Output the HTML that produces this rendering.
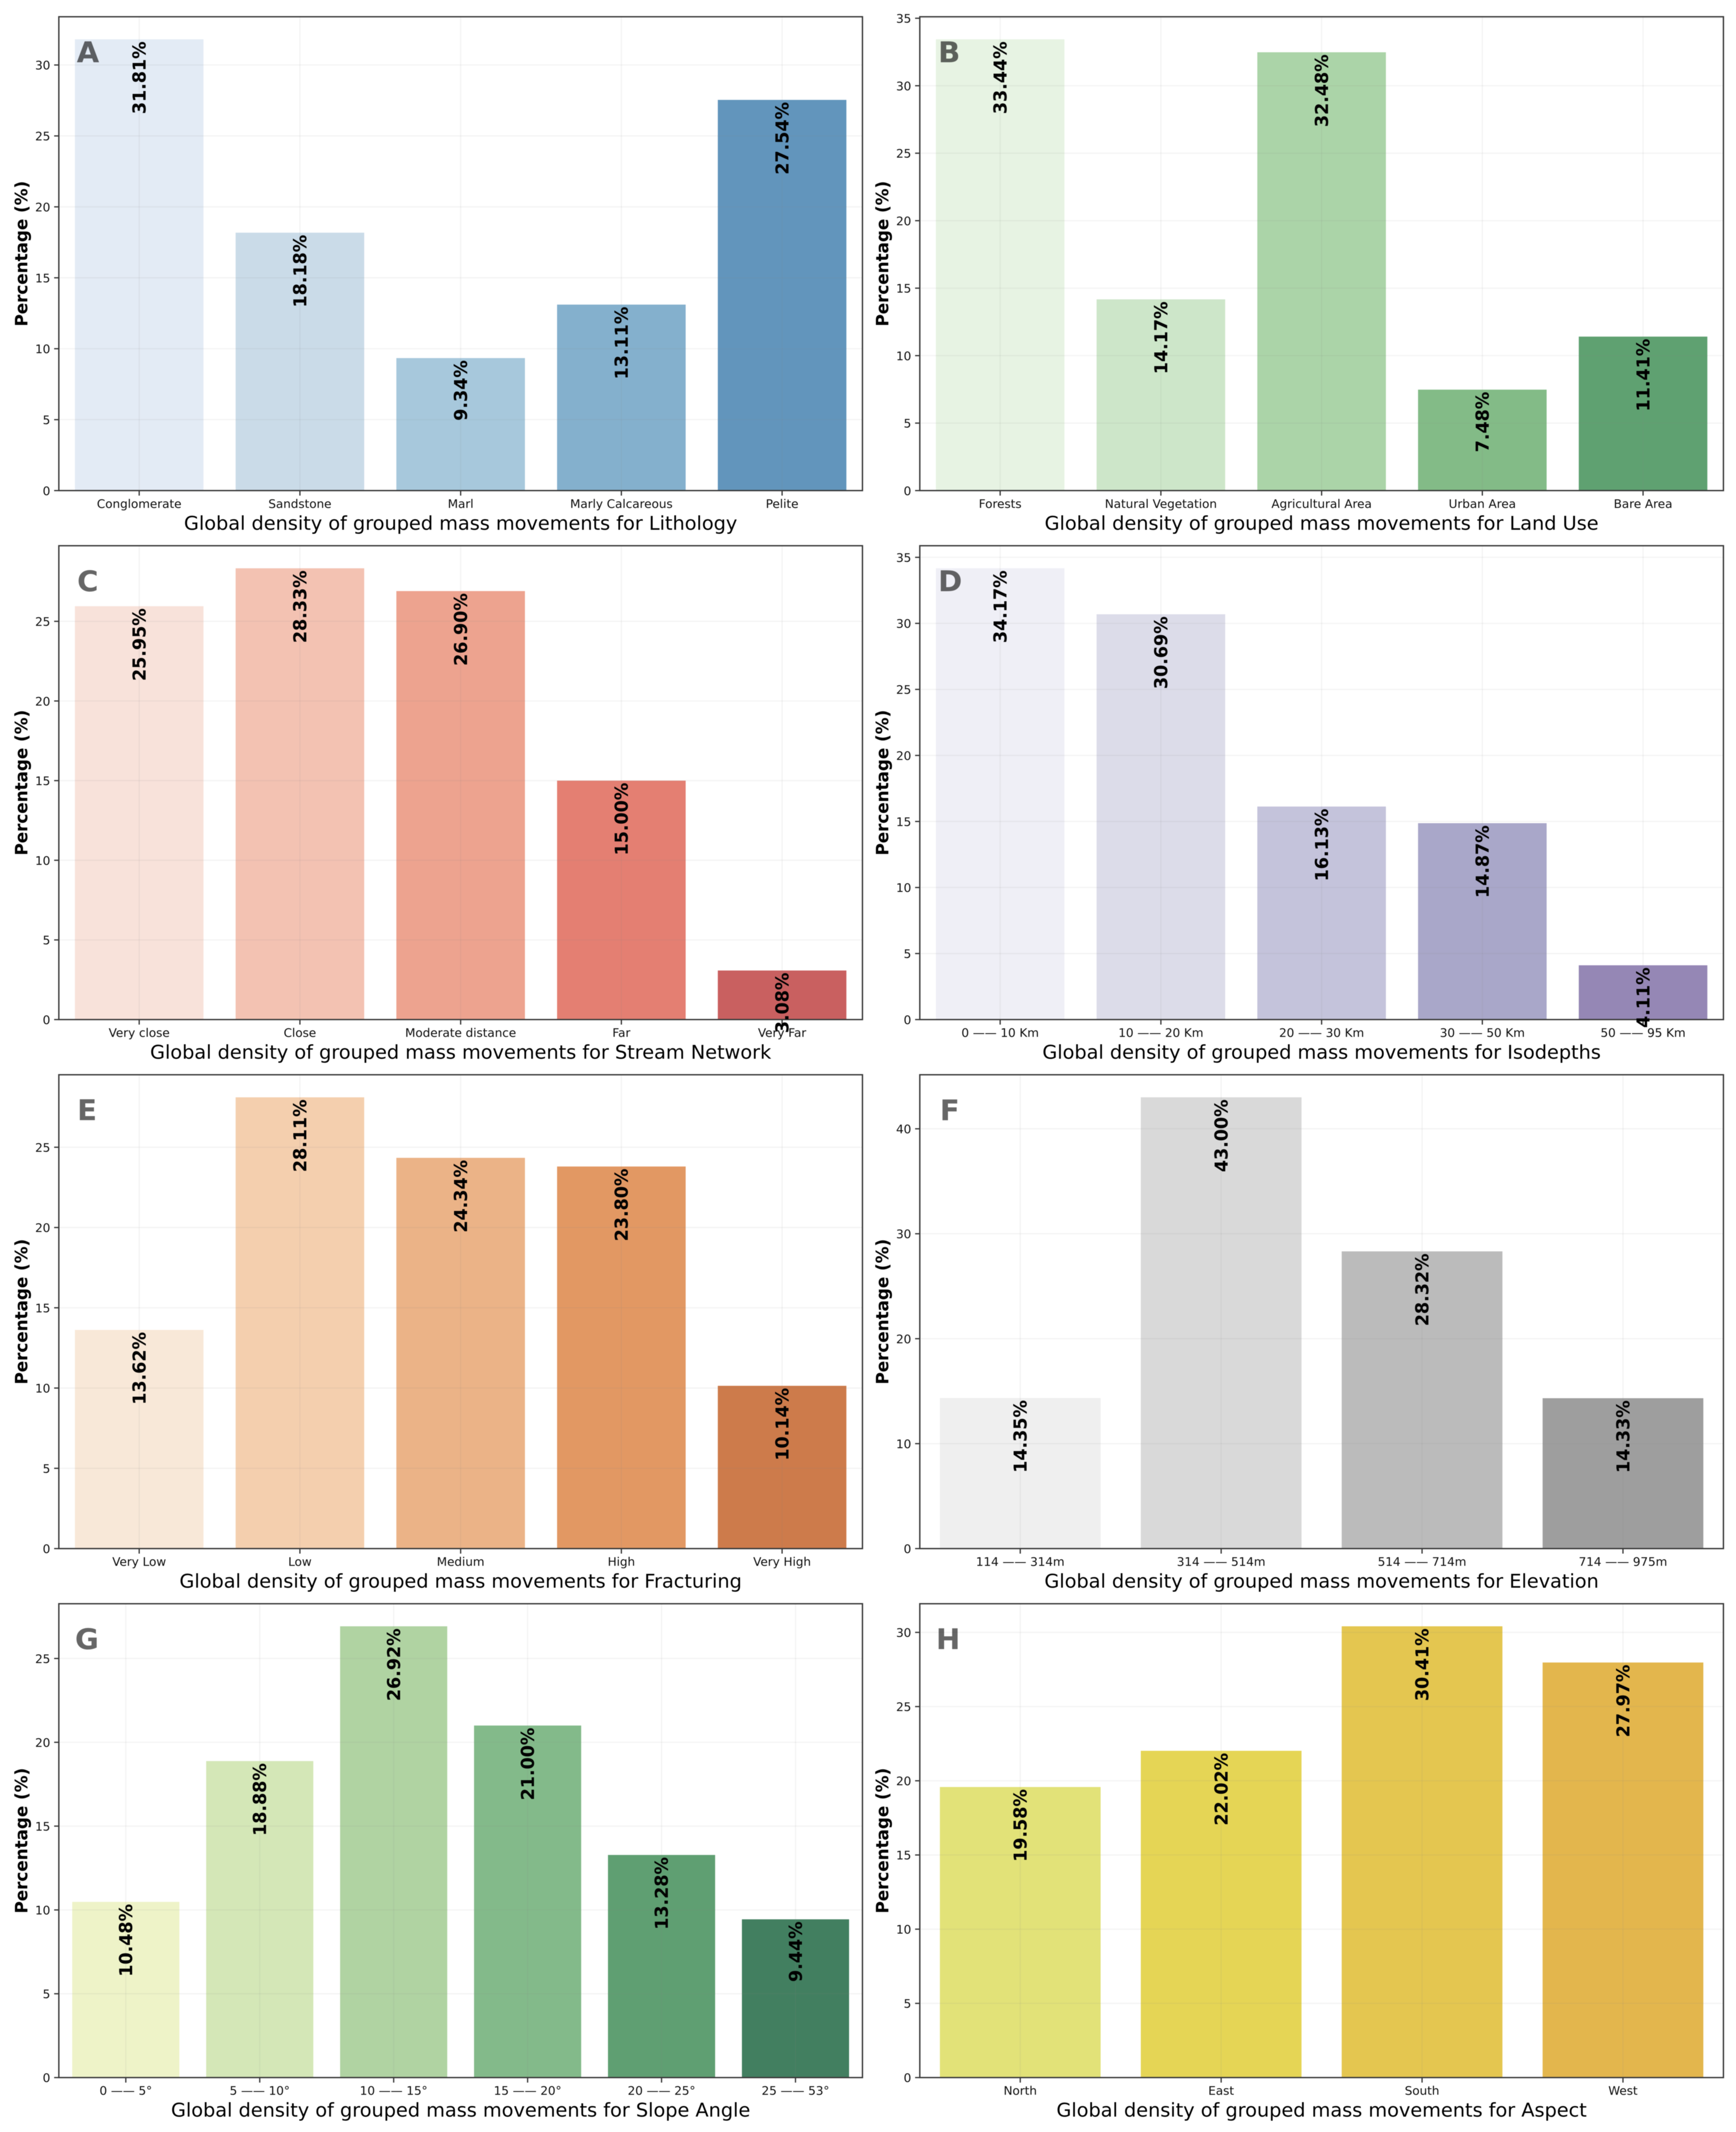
<!DOCTYPE html>
<html lang="en">
<head>
<meta charset="utf-8">
<title>Global density of grouped mass movements</title>
<style>
html,body{margin:0;padding:0;background:#fff;width:100%;height:100%;overflow:hidden;}
svg{display:block;width:100%;height:100vh;filter:blur(0.7px);}
text{font-family:"DejaVu Sans","Liberation Sans",sans-serif;}
</style>
</head>
<body>
<svg id="figure" xmlns="http://www.w3.org/2000/svg" viewBox="0 0 4072 5092" preserveAspectRatio="none">
<rect x="0" y="0" width="4072" height="5092" fill="#ffffff"></rect>
</svg>
<script>
const lithologyCategories = ['Conglomerate','Sandstone','Marl','Marly Calcareous','Pelite'];
const lithologyValues = [31.81,18.18,9.34,13.11,27.54];
const lithologyTicks = [0,5,10,15,20,25,30];
const lithologyColors = ['#e3ebf5','#cadbe8','#a7c8dc','#84b0cd','#6295bc'];

const landUseCategories = ['Forests','Natural Vegetation','Agricultural Area','Urban Area','Bare Area'];
const landUseValues = [33.44,14.17,32.48,7.48,11.41];
const landUseTicks = [0,5,10,15,20,25,30,35];
const landUseColors = ['#e7f3e3','#cde6c9','#abd4a8','#83bb87','#5fa171'];

const streamCategories = ['Very close','Close','Moderate distance','Far','Very Far'];
const streamValues = [25.95,28.33,26.90,15.00,3.08];
const streamTicks = [0,5,10,15,20,25];
const streamColors = ['#f8e2da','#f3c2b2','#eda38f','#e47f72','#c96060'];

const isodepthCategories = ['0 —— 10 Km','10 —— 20 Km','20 —— 30 Km','30 —— 50 Km','50 —— 95 Km'];
const isodepthValues = [34.17,30.69,16.13,14.87,4.11];
const isodepthTicks = [0,5,10,15,20,25,30,35];
const isodepthColors = ['#efeff6','#dcdce9','#c4c3db','#a9a7c9','#9587b5'];

const fracturingCategories = ['Very Low','Low','Medium','High','Very High'];
const fracturingValues = [13.62,28.11,24.34,23.80,10.14];
const fracturingTicks = [0,5,10,15,20,25];
const fracturingColors = ['#f8e8d8','#f4cfae','#ebb387','#e29863','#cd7b4b'];

const elevationCategories = ['114 —— 314m','314 —— 514m','514 —— 714m','714 —— 975m'];
const elevationValues = [14.35,43.00,28.32,14.33];
const elevationTicks = [0,10,20,30,40];
const elevationColors = ['#efefef','#d9d9d9','#bbbbbb','#9e9e9e'];

const slopeCategories = ['0 —— 5°','5 —— 10°','10 —— 15°','15 —— 20°','20 —— 25°','25 —— 53°'];
const slopeValues = [10.48,18.88,26.92,21.00,13.28,9.44];
const slopeTicks = [0,5,10,15,20,25];
const slopeColors = ['#eef3c8','#d4e7b7','#b0d3a2','#83ba8a','#5f9f72','#427f60'];

const aspectCategories = ['North','East','South','West'];
const aspectValues = [19.58,22.02,30.41,27.97];
const aspectTicks = [0,5,10,15,20,25,30];
const aspectColors = ['#e2e278','#e5d555','#e4c650','#e3b64d'];

const SVG_NS = 'http://www.w3.org/2000/svg';
const figure = document.getElementById('figure');
const AXES_WIDTH = 1885;
const AXES_HEIGHT = 1131.7;
const COLUMN_LEFT = [138, 2157.5];
const ROW_TOP = [40, 1303.4, 2566.9, 3830.3];
const Y_HEADROOM = 1.05;
const BAR_WIDTH = 0.8;
const SPINE_COLOR = '#3a3a3a';

function node(parent, tag, props, content) {
  const el = document.createElementNS(SVG_NS, tag);
  Object.keys(props).forEach(function (key) { el.setAttribute(key, props[key]); });
  if (content !== undefined) el.textContent = content;
  parent.appendChild(el);
  return el;
}

function slug(text) {
  return String(text).toLowerCase().replace(/[^a-z0-9]+/g, '-').replace(/^-|-$/g, '');
}

function drawPanel(col, row, letter, subject, categories, values, ticks, colors, letterOffset) {
  const left = COLUMN_LEFT[col];
  const top = ROW_TOP[row];
  const bottom = top + AXES_HEIGHT;
  const right = left + AXES_WIDTH;
  const yMax = Math.max.apply(null, values) * Y_HEADROOM;
  const xScale = function (i) { return left + (i + 0.5) * AXES_WIDTH / categories.length; };
  const yScale = function (v) { return bottom - v / yMax * AXES_HEIGHT; };
  const unit = AXES_WIDTH / categories.length;
  const prefix = slug(subject);

  const group = node(figure, 'g', {});
  
  

  values.forEach(function (v, i) {
    const bar = node(group, 'rect', {
      x: xScale(i) - BAR_WIDTH * unit / 2,
      y: yScale(v),
      width: BAR_WIDTH * unit,
      height: bottom - yScale(v),
      fill: colors[i]
    });
    
    
  });

  ticks.forEach(function (t) {
    if (t === 0) return;
    const grid = node(group, 'line', {
      x1: left, x2: right, y1: yScale(t), y2: yScale(t),
      stroke: '#808080', 'stroke-opacity': 0.09, 'stroke-width': 3
    });
    
    
  });
  categories.forEach(function (c, i) {
    const grid = node(group, 'line', {
      x1: xScale(i), x2: xScale(i), y1: top, y2: bottom,
      stroke: '#808080', 'stroke-opacity': 0.09, 'stroke-width': 3
    });
    
    
  });

  const frame = node(group, 'rect', {
    x: left, y: top, width: AXES_WIDTH, height: AXES_HEIGHT,
    fill: 'none', stroke: SPINE_COLOR, 'stroke-width': 3.2
  });
  
  

  ticks.forEach(function (t) {
    const mark = node(group, 'line', {
      x1: left - 11, x2: left, y1: yScale(t), y2: yScale(t),
      stroke: SPINE_COLOR, 'stroke-width': 3
    });
    
    
    const label = node(group, 'text', {
      x: left - 20, y: yScale(t) + 10.5, 'text-anchor': 'end',
      'font-size': 28, fill: '#111111'
    }, String(t));
    
    
  });

  categories.forEach(function (c, i) {
    const mark = node(group, 'line', {
      x1: xScale(i), x2: xScale(i), y1: bottom, y2: bottom + 12,
      stroke: SPINE_COLOR, 'stroke-width': 3
    });
    
    
    const label = node(group, 'text', {
      x: xScale(i), y: bottom + 41, 'text-anchor': 'middle',
      'font-size': 28, fill: '#111111'
    }, c);
    
    
  });

  const xTitle = node(group, 'text', {
    x: left + AXES_WIDTH / 2, y: bottom + 93.5, 'text-anchor': 'middle',
    'font-size': 45.2, fill: '#000000'
  }, 'Global density of grouped mass movements for ' + subject);
  
  

  const yTitleX = left - 74;
  const yTitleY = top + AXES_HEIGHT / 2;
  const yTitle = node(group, 'text', {
    x: yTitleX, y: yTitleY, 'text-anchor': 'middle',
    transform: 'rotate(-90 ' + yTitleX + ' ' + yTitleY + ')',
    'font-size': 40, 'font-weight': 'bold', fill: '#000000'
  }, 'Percentage (%)');
  
  

  const panelLetter = node(group, 'text', {
    x: left + letterOffset, y: top + 108.5,
    'font-size': 68, 'font-weight': 'bold', fill: '#000000', 'fill-opacity': 0.6
  }, letter);
  
  

  values.forEach(function (v, i) {
    const lx = xScale(i) + 15;
    const ly = yScale(v) + 5;
    const valueLabel = node(group, 'text', {
      x: lx, y: ly, 'text-anchor': 'end',
      transform: 'rotate(-90 ' + lx + ' ' + ly + ')',
      'font-size': 41.7, 'font-weight': 'bold', fill: '#000000'
    }, v.toFixed(2) + '%');
    
    
  });
}

drawPanel(0, 0, 'A', 'Lithology', lithologyCategories, lithologyValues, lithologyTicks, lithologyColors, 42);
drawPanel(1, 0, 'B', 'Land Use', landUseCategories, landUseValues, landUseTicks, landUseColors, 43);
drawPanel(0, 1, 'C', 'Stream Network', streamCategories, streamValues, streamTicks, streamColors, 43);
drawPanel(1, 1, 'D', 'Isodepths', isodepthCategories, isodepthValues, isodepthTicks, isodepthColors, 43);
drawPanel(0, 2, 'E', 'Fracturing', fracturingCategories, fracturingValues, fracturingTicks, fracturingColors, 43);
drawPanel(1, 2, 'F', 'Elevation', elevationCategories, elevationValues, elevationTicks, elevationColors, 47);
drawPanel(0, 3, 'G', 'Slope Angle', slopeCategories, slopeValues, slopeTicks, slopeColors, 38);
drawPanel(1, 3, 'H', 'Aspect', aspectCategories, aspectValues, aspectTicks, aspectColors, 38);
</script>
</body>
</html>
